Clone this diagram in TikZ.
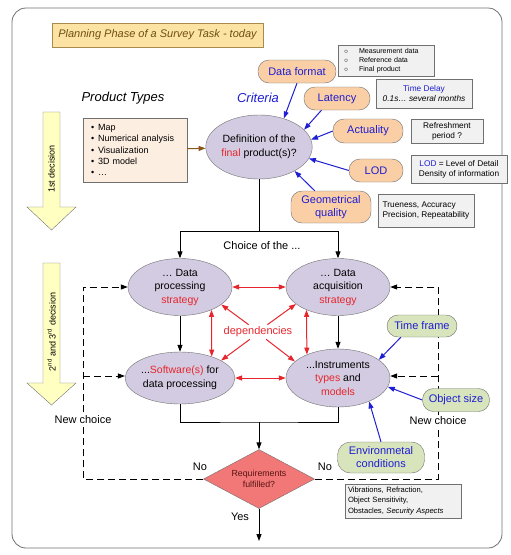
\documentclass[tikz,border=0pt]{standalone}
\usepackage{fontspec}
\setmainfont{Liberation Sans}
\usetikzlibrary{shapes.geometric,arrows.meta}

\definecolor{framegray}{HTML}{707070}
\definecolor{titlefill}{HTML}{FCE3A4}
\definecolor{titleline}{HTML}{A88A4E}
\definecolor{titletext}{HTML}{6E4E14}
\definecolor{listfill}{HTML}{FDEEE2}
\definecolor{pillorange}{HTML}{FBCFA6}
\definecolor{pillgreen}{HTML}{D7E4BC}
\definecolor{ovalfill}{HTML}{D3CBE1}
\definecolor{infofill}{HTML}{F1F1F1}
\definecolor{critblue}{HTML}{1E1ED2}
\definecolor{depred}{HTML}{E6262C}
\definecolor{reqfill}{HTML}{F27777}
\definecolor{reqtext}{HTML}{5A1515}
\definecolor{arrowfill}{HTML}{FFFFC2}
\definecolor{prodbrown}{HTML}{8A5518}

\begin{document}
\begin{tikzpicture}[x=1pt,y=-1pt,
    pill/.style={draw=framegray, fill=pillorange, rounded corners=11pt, inner sep=1pt,
      text=critblue, align=center, font=\fontsize{11}{13}\selectfont},
    greenpill/.style={pill, fill=pillgreen},
    oval/.style={ellipse, draw=framegray, fill=ovalfill, inner sep=0pt, align=center,
      font=\fontsize{10.5}{13.5}\selectfont},
    infobox/.style={draw=framegray, fill=infofill, inner sep=3pt, font=\fontsize{8.3}{10}\selectfont},
    plaintext/.style={font=\fontsize{11}{13}\selectfont},
    tip/.style={-{Triangle[length=7pt,width=5pt]}},
    flow/.style={line width=1pt},
    flowarrow/.style={flow, tip},
    critarrow/.style={critblue, line width=1pt, tip},
    deparrow/.style={depred, line width=1pt, tip},
    depboth/.style={depred, line width=1pt, {Triangle[length=7pt,width=5pt]}-{Triangle[length=7pt,width=5pt]}},
    loopline/.style={line width=1pt, dash pattern=on 7pt off 4pt},
    decarrow/.style={draw=framegray, fill=arrowfill}]
\useasboundingbox (0,0) rectangle (511,555);

% Draw the frame and the title
\draw[framegray, line width=0.8pt, rounded corners=14pt] (12,8) rectangle (502,548);
\node[draw=titleline, fill=titlefill, minimum width=211pt, minimum height=24pt, inner sep=0pt,
  text=titletext, font=\fontsize{11}{13}\selectfont\itshape] (title) at (157.5,35)
  {Planning Phase of a Survey Task - today};

% Headings
\node[font=\fontsize{13}{15}\selectfont\itshape] (ptypes) at (123,98) {Product Types};
\node[font=\fontsize{13}{15}\selectfont\itshape, text=critblue] (crit) at (258,98) {Criteria};

% Decision arrows
\draw[decarrow] (43,112) -- (60,112) -- (60,207) -- (76,207) -- (51.5,230) -- (27,207) -- (43,207) -- cycle;
\node[rotate=90, font=\fontsize{9}{11}\selectfont] (first) at (51.5,169) {1st decision};
\draw[decarrow] (43,263) -- (60,263) -- (60,383) -- (76,383) -- (51.5,405) -- (27,383) -- (43,383) -- cycle;
\node[rotate=90, font=\fontsize{9}{11}\selectfont] (second) at (51.5,332)
  {2\textsuperscript{nd} and 3\textsuperscript{rd} decision};

% Product types
\node[draw=framegray, fill=listfill, minimum height=64pt, inner xsep=8pt, text width=88pt,
  align=left, font=\fontsize{9}{11.3}\selectfont] (plist) at (135,150)
  {\textbullet\hspace{4pt}Map\\
   \textbullet\hspace{4pt}Numerical analysis\\
   \textbullet\hspace{4pt}Visualization\\
   \textbullet\hspace{4pt}3D model\\
   \textbullet\hspace{4pt}…};

% Definition of the final product
\node[oval, minimum width=104pt, minimum height=64pt] (def) at (259,147)
  {Definition of the\\\textcolor{depred}{final} product(s)?};
\draw[prodbrown, line width=1pt, tip] (plist) -- (def);

% Criteria
\node[pill, minimum width=78pt, minimum height=23pt] (fmt) at (297,71.5) {Data format};
\node[pill, minimum width=66pt, minimum height=23pt] (lat) at (337,98.5) {Latency};
\node[pill, minimum width=70pt, minimum height=24pt] (act) at (368,131) {Actuality};
\node[pill, minimum width=54pt, minimum height=23pt] (lod) at (376,170.5) {LOD};
\node[pill, minimum width=80pt, minimum height=32pt] (geo) at (331,207) {Geometrical\\quality};

\node[infobox, text width=90pt, minimum height=28pt, align=left, font=\fontsize{7.1}{9}\selectfont]
  (meas) at (386,61)
  {\makebox[18pt][l]{\hspace{3pt}$\circ$}Measurement data\\
   \makebox[18pt][l]{\hspace{3pt}$\circ$}Reference data\\
   \makebox[18pt][l]{\hspace{3pt}$\circ$}Final product};
\node[infobox, minimum width=96pt, minimum height=29pt, align=center] (delay) at (424,93.5)
  {\textcolor{critblue}{Time Delay}\\\textit{0.1s… several months}};
\node[infobox, minimum width=72pt, minimum height=24pt, align=center] (refr) at (447,131)
  {Refreshment\\period ?};
\node[infobox, minimum width=96pt, minimum height=28pt, align=center] (lodinfo) at (459,169)
  {\textcolor{critblue}{LOD} = Level of Detail\\Density of information};
\node[infobox, minimum width=96pt, minimum height=33pt, align=left] (true) at (426,210.5)
  {Trueness, Accuracy\\Precision, Repeatability};

\draw[critarrow] (fmt.south) -- (def.49);
\draw[critarrow] (lat.217) -- (def.21);
\draw[critarrow] (act.west) -- (def.8);
\draw[critarrow] (lod.west) -- (def.-13);
\draw[critarrow] (geo.135) -- (def.-34);

% Choice of the strategies, software and instruments
\node[oval, minimum width=104pt, minimum height=57pt] (dp) at (180,287)
  {… Data\\processing\\\textcolor{depred}{strategy}};
\node[oval, minimum width=104pt, minimum height=57pt] (da) at (338,287)
  {… Data\\acquisition\\\textcolor{depred}{strategy}};
\node[oval, minimum width=104pt, minimum height=52pt] (sw) at (180,378)
  {...\textcolor{depred}{Software(s)} for\\data processing};
\node[oval, minimum width=104pt, minimum height=58pt] (ins) at (338,378)
  {...Instruments\\\textcolor{depred}{types} and\\\textcolor{depred}{models}};

\coordinate (split) at (259,231);
\draw[flow] (def.south) -- (split);
\draw[flowarrow] (split) -| (dp.north);
\draw[flowarrow] (split) -| (da.north);
\node[plaintext] (choice) at (262,246) {Choice of the ...};
\draw[flowarrow] (dp) -- (sw);
\draw[flowarrow] (da) -- (ins);

% Dependencies
\node[plaintext, text=depred, inner sep=2pt] (dep) at (258,332) {dependencies};
\draw[depboth] (dp) -- (da);
\draw[depboth] (sw) -- (ins);
\draw[depboth] (dp.-36) -- (sw.34);
\draw[depboth] (da.216) -- (ins.143);
\draw[deparrow] (dep.142) -- (dp.-23);
\draw[deparrow] (dep.38) -- (da.202);
\draw[deparrow] (dep.222) -- (sw.23);
\draw[deparrow] (dep.-42) -- (ins.159);

% Requirements check
\node[diamond, draw=framegray, fill=reqfill, minimum width=111pt, minimum height=59pt, aspect=1.9,
  inner sep=0pt, align=center, text=reqtext, font=\fontsize{8.8}{11}\selectfont] (req) at (259,479)
  {Requirements\\fulfilled?};
\coordinate (join) at (259,422);
\draw[flow] (sw.south) |- (join) -| (ins.south);
\draw[flowarrow] (join) -- (req.north);
\coordinate (done) at (259,541);
\draw[flowarrow] (req.south) -- (done);
\node[plaintext] (yes) at (240,517) {Yes};
\node[plaintext] (noleft) at (200,467) {No};
\node[plaintext] (noright) at (325,467) {No};

% New choice loops
\coordinate (lloop) at (83,479);
\coordinate (lbranch) at (83,376);
\draw[loopline, tip] (req.west) -- (lloop) |- (dp.west);
\draw[loopline, tip] (lbranch) -- (lbranch -| sw.west);
\coordinate (rloop) at (438,479);
\coordinate (rbranch) at (438,376);
\draw[loopline, tip] (req.east) -- (rloop) |- (da.east);
\draw[loopline, tip] (rbranch) -- (rbranch -| ins.east);
\node[plaintext, fill=white, inner sep=1pt] (newleft) at (83,420) {New choice};
\node[plaintext, fill=white, inner sep=1pt] (newright) at (438,421) {New choice};

% Conditions for the instruments
\node[greenpill, minimum width=70pt, minimum height=22pt] (tf) at (422,326) {Time frame};
\node[greenpill, minimum width=67pt, minimum height=23pt] (osize) at (456,400) {Object size};
\node[greenpill, minimum width=87pt, minimum height=31pt, rounded corners=13pt] (env) at (381,457.5)
  {Environmetal\\conditions};
\draw[critarrow] (tf.208) -- (ins.24);
\draw[critarrow] (osize.west) -- (ins.-10);
\draw[critarrow] (env.north) -- (ins.-37);
\node[infobox, text width=110pt, minimum height=30pt, align=left, font=\fontsize{7.6}{10.3}\selectfont]
  (vib) at (403,501)
  {Vibrations, Refraction,\\Object Sensitivity,\\Obstacles, \textit{Security Aspects}};
\end{tikzpicture}
\end{document}
